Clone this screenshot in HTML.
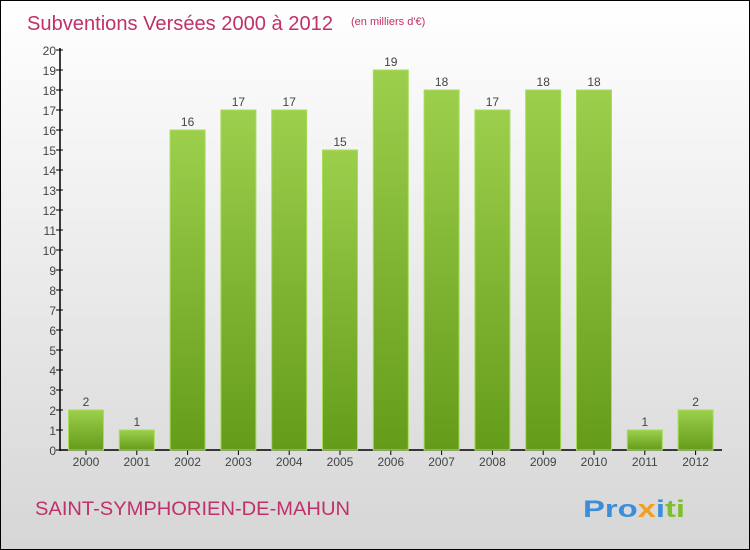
<!DOCTYPE html>
<html><head><meta charset="utf-8"><style>
body{margin:0}
#c{width:750px;height:550px;position:relative;box-sizing:border-box;border:1px solid #000;background:linear-gradient(#fff,#d6d6d6);font-family:"Liberation Sans",sans-serif;overflow:hidden}
</style></head><body>
<div id="c">
<svg width="750" height="550" style="position:absolute;left:-1px;top:-1px" id="s">
<defs><linearGradient id="g" x1="0" y1="0" x2="0" y2="1"><stop offset="0" stop-color="#9ccf4c"/><stop offset="1" stop-color="#649c1a"/></linearGradient></defs>
<text x="27" y="30" font-size="20" fill="#c0306a" textLength="306" lengthAdjust="spacingAndGlyphs">Subventions Versées 2000 à 2012</text>
<text x="351" y="25" font-size="11" fill="#c0306a">(en milliers d'€)</text>
<text x="35" y="515" font-size="19" fill="#c0306a" textLength="315" lengthAdjust="spacingAndGlyphs">SAINT-SYMPHORIEN-DE-MAHUN</text>
<text x="583" y="517" font-size="24" font-weight="bold" textLength="102" lengthAdjust="spacingAndGlyphs"><tspan fill="#3a8fd8">Pro</tspan><tspan fill="#f0a020">x</tspan><tspan fill="#3a8fd8">i</tspan><tspan fill="#7cc030">ti</tspan></text>
<g id="axes"></g><g id="bars"></g>
</svg></div>
<script>
const categories=["2000","2001","2002","2003","2004","2005","2006","2007","2008","2009","2010","2011","2012"];
const values=[2,1,16,17,17,15,19,18,17,18,18,1,2];
const yTicks=[0,1,2,3,4,5,6,7,8,9,10,11,12,13,14,15,16,17,18,19,20];
const NS="http://www.w3.org/2000/svg";
const y=v=>450-v*20, x=i=>86+i*50.8;
const ax=document.getElementById('axes'), bg=document.getElementById('bars');
function mk(t,a,p){const e=document.createElementNS(NS,t);for(const k in a)e.setAttribute(k,a[k]);p.appendChild(e);return e;}
let l=mk('line',{x1:60,y1:48,x2:60,y2:451,stroke:'#000','stroke-width':1.5},ax);


l=mk('line',{x1:60,y1:450,x2:722,y2:450,stroke:'#000','stroke-width':1.5},ax);


yTicks.forEach(v=>{
 const t=mk('line',{x1:56,x2:63,y1:y(v),y2:y(v),stroke:'#000'},ax);
 
 
 const tx=mk('text',{x:56,y:y(v)+5,'text-anchor':'end','font-size':12,fill:'#444'},ax);tx.textContent=v;
 
 
});
categories.forEach((c,i)=>{
 const r=mk('rect',{x:x(i)-17.5,y:y(values[i]),width:35,height:values[i]*20,fill:'url(#g)',stroke:'#a8dc5a','stroke-width':1},bg);
 
 
 const v=mk('text',{x:x(i),y:y(values[i])-4,'text-anchor':'middle','font-size':12,fill:'#444'},bg);v.textContent=values[i];
 
 
 const t=mk('line',{x1:x(i),x2:x(i),y1:450,y2:455,stroke:'#000'},ax);
 
 
 const tx=mk('text',{x:x(i),y:466,'text-anchor':'middle','font-size':12,fill:'#444'},ax);tx.textContent=c;
 
 
});
</script></body></html>
